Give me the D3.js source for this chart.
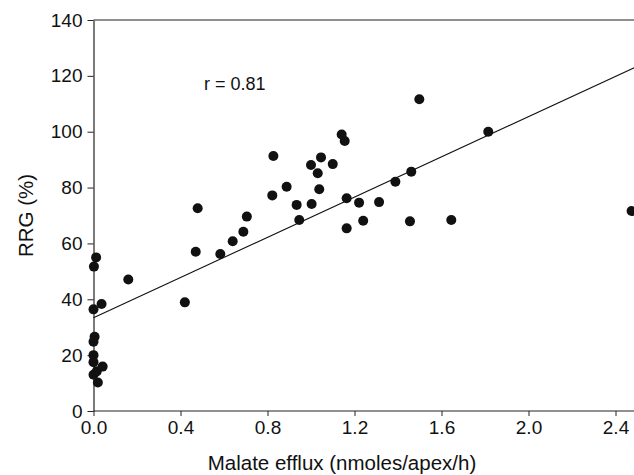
<!DOCTYPE html>
<html>
<head>
<meta charset="utf-8">
<script src="https://cdn.jsdelivr.net/npm/d3@7"></script>
<style>
  html, body { margin: 0; padding: 0; background: #fff; }
  svg { display: block; font-family: "Liberation Sans", Arial, Helvetica, sans-serif; }
</style>
</head>
<body>
<svg id="chart" width="634" height="475"></svg>
<script>
// Malate efflux (nmoles/apex/h)
const effluxX = [
  0.005, 0.0, 0.0, 0.0, 0.0, 0.015, 0.02, 0.042,
  0.012, 0.002, 0.0, 0.037, 0.16, 0.42, 0.47, 0.479,
  0.583, 0.64, 0.689, 0.705, 0.822, 0.827, 0.888, 0.934,
  0.946, 1.0, 1.003, 1.031, 1.038, 1.046, 1.10, 1.141,
  1.155, 1.164, 1.164, 1.221, 1.240, 1.313, 1.388, 1.455,
  1.461, 1.498, 1.645, 1.815, 2.474
];
// RRG (%)
const rrgY = [
  26.6, 24.8, 20.0, 17.5, 13.0, 14.2, 10.2, 15.9,
  55.0, 51.7, 36.4, 38.3, 47.1, 38.9, 57.0, 72.6,
  56.2, 60.8, 64.2, 69.6, 77.2, 91.3, 80.3, 73.8,
  68.4, 88.1, 74.1, 85.1, 79.4, 90.8, 88.4, 99.0,
  96.7, 76.2, 65.4, 74.6, 68.1, 74.8, 82.1, 67.9,
  85.7, 111.6, 68.4, 100.0, 71.6
];
// regression line end points
const fitX = [0, 2.5];
const fitY = [33.4, 123.4];
const xTicks = [0.0, 0.4, 0.8, 1.2, 1.6, 2.0, 2.4];
const yTicks = [0, 20, 40, 60, 80, 100, 120, 140];
const xTitle = "Malate efflux (nmoles/apex/h)";
const yTitle = "RRG (%)";
const annotation = "r = 0.81";

const svg = d3.select("#chart");
const x = d3.scaleLinear().domain([0, 2.5]).range([93.5, 637.25]);
const y = d3.scaleLinear().domain([0, 140]).range([411, 20]);

// top frame line
svg.append("line")
  .attr("x1", x(0)).attr("x2", 640)
  .attr("y1", y(140)).attr("y2", y(140))
  .attr("stroke", "#222").attr("stroke-width", 1.2);

// x axis
const gx = svg.append("g").attr("transform", `translate(0,${y(0)})`)
  .call(d3.axisBottom(x).tickValues(xTicks).tickFormat(d3.format(".1f")).tickSize(5).tickSizeOuter(0));
gx.select(".domain").attr("d", `M${x(0)},0H640`).attr("stroke", "#222").attr("stroke-width", 1.2);
gx.selectAll(".tick line").attr("stroke", "#222");
gx.selectAll(".tick text").attr("font-size", 19).attr("fill", "#111").attr("y", 10).attr("dy", "0.71em")
  .attr("font-family", "Liberation Sans, Arial, sans-serif");

// y axis
const gy = svg.append("g").attr("transform", `translate(${x(0)},0)`)
  .call(d3.axisLeft(y).tickValues(yTicks).tickSize(6).tickSizeOuter(0));
gy.select(".domain").attr("stroke", "#222").attr("stroke-width", 1.2);
gy.selectAll(".tick line").attr("stroke", "#222");
gy.selectAll(".tick text").attr("font-size", 19).attr("fill", "#111").attr("x", -11)
  .attr("font-family", "Liberation Sans, Arial, sans-serif");

// regression line
svg.append("line")
  .attr("x1", x(fitX[0])).attr("y1", y(fitY[0]))
  .attr("x2", x(fitX[1])).attr("y2", y(fitY[1]))
  .attr("stroke", "#111").attr("stroke-width", 1.1);

// points
svg.append("g").selectAll("circle")
  .data(effluxX.map((v, i) => [v, rrgY[i]]))
  .join("circle")
  .attr("cx", d => x(d[0])).attr("cy", d => y(d[1]))
  .attr("r", 5).attr("fill", "#111");

// annotation
svg.append("text").attr("x", 204).attr("y", 90)
  .attr("font-size", 18).attr("fill", "#111").text(annotation);

// axis titles
svg.append("text").attr("x", 342).attr("y", 470).attr("text-anchor", "middle")
  .attr("font-size", 20.5).attr("fill", "#111").text(xTitle);
svg.append("text").attr("transform", `translate(33,215.5) rotate(-90)`).attr("text-anchor", "middle")
  .attr("font-size", 20.5).attr("fill", "#111").text(yTitle);
</script>
</body>
</html>
